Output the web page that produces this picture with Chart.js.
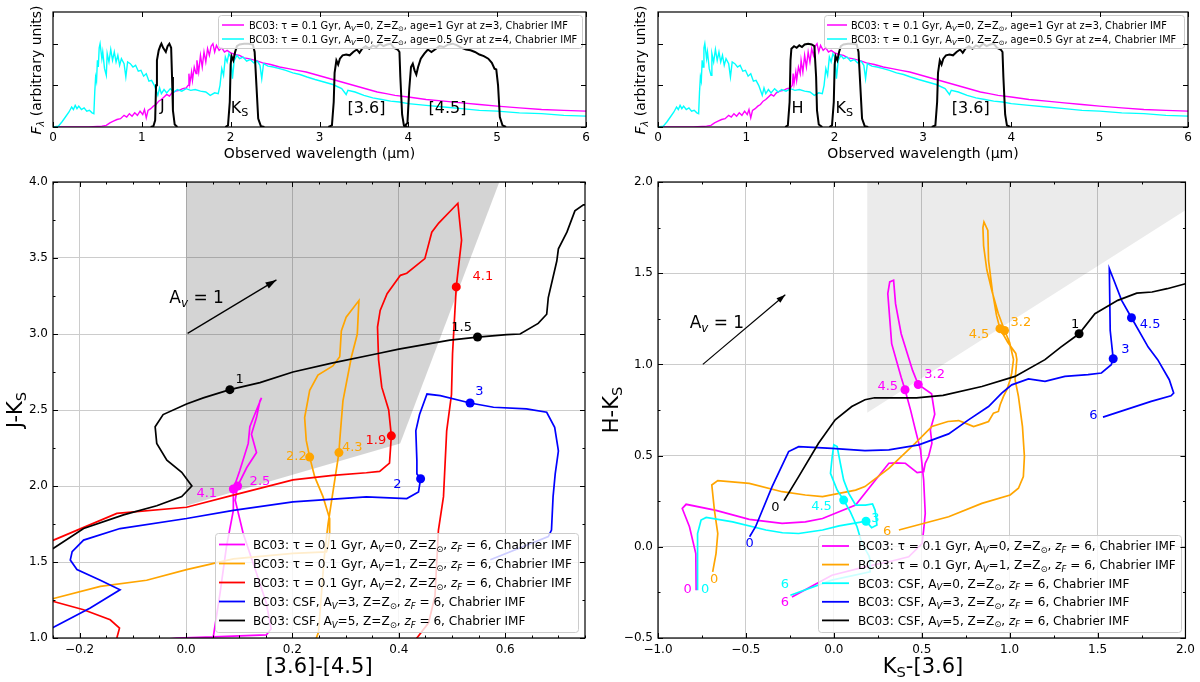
<!DOCTYPE html>
<html><head><meta charset="utf-8">
<script src="https://cdn.jsdelivr.net/npm/chart.js@4.4.1/dist/chart.umd.min.js"></script>
<style>
html,body{margin:0;padding:0;background:#fff;width:1200px;height:682px;overflow:hidden;position:relative}
canvas{position:absolute}
</style></head><body>
<canvas id="c1" width="600" height="175" style="left:0;top:0"></canvas>
<canvas id="c2" width="600" height="175" style="left:600px;top:0"></canvas>
<canvas id="c3" width="600" height="522" style="left:0;top:160px"></canvas>
<canvas id="c4" width="600" height="522" style="left:600px;top:160px"></canvas>
<script>
// ================= DATA =================
// --- top panels: spectra (wavelength um, normalised flux) ---
const topXTicks=[0,1,2,3,4,5,6];
const topYTicks=[0,0.5,1.0];
const specMagenta=[[0.00,0.00],[0.20,0.0],[0.40,0.0],[0.55,0.01],[0.60,0.02],[0.64,0.05],[0.68,0.07],[0.72,0.09],[0.76,0.1],[0.80,0.14],[0.83,0.12],[0.86,0.16],[0.89,0.13],[0.92,0.17],[0.95,0.14],[0.98,0.19],[1.01,0.15],[1.03,0.21],[1.05,0.11],[1.07,0.2],[1.10,0.22],[1.13,0.25],[1.16,0.27],[1.19,0.31],[1.22,0.33],[1.25,0.36],[1.28,0.39],[1.31,0.37],[1.34,0.41],[1.38,0.43],[1.42,0.44],[1.46,0.46],[1.50,0.47],[1.52,0.5],[1.53,0.64],[1.54,0.52],[1.56,0.66],[1.57,0.56],[1.59,0.72],[1.61,0.64],[1.62,0.8],[1.64,0.66],[1.66,0.86],[1.68,0.72],[1.70,0.9],[1.72,0.78],[1.74,0.94],[1.76,0.86],[1.78,0.97],[1.80,1.0],[1.82,0.9],[1.84,0.98],[1.87,0.92],[1.90,0.95],[1.93,0.9],[1.96,0.92],[2.00,0.89],[2.05,0.87],[2.10,0.86],[2.15,0.83],[2.20,0.82],[2.28,0.8],[2.36,0.77],[2.45,0.75],[2.55,0.72],[2.65,0.7],[2.75,0.68],[2.85,0.66],[2.95,0.63],[3.05,0.6],[3.15,0.57],[3.25,0.54],[3.35,0.51],[3.45,0.48],[3.55,0.45],[3.65,0.42],[3.75,0.4],[3.85,0.38],[4.00,0.36],[4.20,0.33],[4.40,0.31],[4.60,0.29],[4.80,0.27],[5.00,0.25],[5.25,0.23],[5.50,0.21],[5.75,0.2],[6.00,0.19]];
const specCyan=[[0.00,0.00],[0.06,0.01],[0.10,0.06],[0.14,0.12],[0.18,0.18],[0.21,0.24],[0.23,0.21],[0.25,0.26],[0.27,0.22],[0.29,0.25],[0.32,0.21],[0.35,0.23],[0.38,0.19],[0.41,0.2],[0.44,0.17],[0.46,0.16],[0.47,0.42],[0.48,0.6],[0.49,0.55],[0.50,0.8],[0.51,0.72],[0.52,0.95],[0.53,1.0],[0.55,0.82],[0.56,0.9],[0.58,0.7],[0.60,0.62],[0.61,0.88],[0.63,0.78],[0.65,0.93],[0.67,0.8],[0.69,0.9],[0.71,0.78],[0.73,0.86],[0.75,0.74],[0.77,0.82],[0.80,0.76],[0.82,0.6],[0.84,0.78],[0.87,0.76],[0.90,0.72],[0.93,0.74],[0.96,0.67],[0.99,0.68],[1.02,0.61],[1.05,0.64],[1.08,0.55],[1.11,0.56],[1.14,0.5],[1.16,0.44],[1.18,0.38],[1.20,0.47],[1.22,0.4],[1.25,0.45],[1.28,0.41],[1.32,0.46],[1.36,0.42],[1.40,0.45],[1.45,0.43],[1.50,0.46],[1.55,0.44],[1.60,0.45],[1.66,0.43],[1.72,0.42],[1.77,0.38],[1.82,0.41],[1.86,0.4],[1.88,0.5],[1.90,0.7],[1.92,0.62],[1.94,0.84],[1.96,0.78],[1.98,0.88],[2.00,0.84],[2.02,0.58],[2.04,0.8],[2.07,0.86],[2.10,0.82],[2.14,0.84],[2.18,0.79],[2.22,0.81],[2.26,0.77],[2.30,0.79],[2.33,0.74],[2.35,0.58],[2.37,0.76],[2.42,0.73],[2.48,0.72],[2.55,0.7],[2.62,0.68],[2.70,0.65],[2.78,0.63],[2.86,0.6],[2.95,0.57],[3.05,0.54],[3.15,0.51],[3.25,0.46],[3.30,0.39],[3.32,0.44],[3.40,0.42],[3.50,0.38],[3.60,0.35],[3.70,0.33],[3.80,0.31],[3.90,0.3],[4.00,0.28],[4.20,0.26],[4.40,0.24],[4.60,0.22],[4.80,0.2],[5.00,0.19],[5.25,0.17],[5.50,0.16],[5.75,0.14],[6.00,0.13]];
// --- filter curves ---
const filterJ=[[1.10,0],[1.13,0.01],[1.15,0.08],[1.16,0.5],[1.17,0.8],[1.19,0.92],[1.21,0.98],[1.22,1.0],[1.24,0.95],[1.27,0.9],[1.29,0.97],[1.31,1.0],[1.33,0.95],[1.34,0.6],[1.35,0.2],[1.37,0.03],[1.40,0]];
const filterH=[[1.44,0],[1.47,0.02],[1.49,0.3],[1.50,0.8],[1.51,0.94],[1.54,0.97],[1.57,0.95],[1.60,0.98],[1.63,0.96],[1.66,0.99],[1.70,1.0],[1.74,0.99],[1.77,0.97],[1.79,0.6],[1.80,0.2],[1.82,0.03],[1.86,0]];
const filterKs=[[1.94,0],[1.97,0.02],[1.99,0.3],[2.00,0.75],[2.01,0.85],[2.03,0.8],[2.05,0.9],[2.07,0.97],[2.10,0.99],[2.15,1.0],[2.20,1.0],[2.25,0.99],[2.27,0.9],[2.29,0.5],[2.31,0.1],[2.34,0.01],[2.38,0]];
const filter36=[[3.10,0],[3.14,0.02],[3.16,0.3],[3.17,0.65],[3.19,0.8],[3.21,0.75],[3.23,0.82],[3.26,0.86],[3.30,0.87],[3.34,0.86],[3.38,0.9],[3.42,0.93],[3.45,0.89],[3.48,0.94],[3.52,0.97],[3.56,0.94],[3.60,0.98],[3.64,0.96],[3.68,1.0],[3.72,0.97],[3.76,0.99],[3.80,1.0],[3.84,0.95],[3.88,0.93],[3.90,0.9],[3.91,0.6],[3.93,0.15],[3.95,0.02],[3.99,0]];
const filter45=[[3.95,0],[3.99,0.05],[4.01,0.45],[4.03,0.72],[4.05,0.76],[4.07,0.68],[4.09,0.63],[4.11,0.72],[4.14,0.82],[4.18,0.88],[4.22,0.93],[4.26,0.9],[4.30,0.93],[4.35,0.97],[4.40,0.96],[4.45,0.99],[4.50,1.0],[4.55,0.98],[4.60,0.95],[4.65,0.93],[4.70,0.92],[4.75,0.9],[4.80,0.87],[4.85,0.85],[4.90,0.82],[4.94,0.77],[4.97,0.7],[4.99,0.69],[5.01,0.5],[5.03,0.12],[5.06,0.02],[5.10,0]];
const topLabelsL=[[1.23,0.26,'J'],[2.10,0.24,'K_{S}'],[3.53,0.24,'[3.6]'],[4.44,0.24,'[4.5]']];
const topLabelsR=[[1.58,0.24,'H'],[2.11,0.24,'K_{S}'],[3.54,0.24,'[3.6]']];
const topLegendTexts=['BC03: τ = 0.1 Gyr, A_i{V}=0, Z=Z_{⊙}, age=1 Gyr at z=3, Chabrier IMF','BC03: τ = 0.1 Gyr, A_i{V}=0, Z=Z_{⊙}, age=0.5 Gyr at z=4, Chabrier IMF'];

// --- bottom-left: J-Ks vs [3.6]-[4.5] ---
const blXTicks=[-0.2,0.0,0.2,0.4,0.6];
const blYTicks=[1.0,1.5,2.0,2.5,3.0,3.5,4.0];
const blShade=[[0,1.87],[0,4.0],[0.589,4.0],[0.4025,2.28],[0,1.87]];
const blMagenta=[[-0.03,0.995],[-0.0175,1.0],[0.051,1.007],[0.151,1.02],[0.16,1.06],[0.151,1.23],[0.1325,1.426],[0.1075,1.688],[0.0925,1.906],[0.097,2.0],[0.114,2.12],[0.1325,2.22],[0.123,2.34],[0.1325,2.45],[0.139,2.56],[0.142,2.58],[0.1325,2.5],[0.12,2.39],[0.117,2.28],[0.101,2.1],[0.089,1.98],[0.089,1.84],[0.076,1.6],[0.064,1.295],[0.051,1.0],[0.049,0.98]];
const blOrange=[[-0.26,1.245],[-0.249,1.26],[-0.161,1.34],[-0.074,1.38],[0.001,1.45],[0.089,1.52],[0.201,1.557],[0.264,1.567],[0.267,1.6],[0.27,1.69],[0.27,1.786],[0.2575,1.93],[0.242,2.06],[0.2325,2.19],[0.226,2.30],[0.223,2.45],[0.2325,2.63],[0.248,2.73],[0.276,2.79],[0.289,2.85],[0.292,3.02],[0.301,3.11],[0.325,3.22],[0.322,3.0],[0.311,2.85],[0.295,2.56],[0.289,2.30],[0.2875,2.22],[0.267,1.75],[0.26,1.535],[0.249,1.037],[0.245,1.0],[0.244,0.98]];
const blRedA=[[-0.26,1.25],[-0.249,1.24],[-0.1925,1.186],[-0.1425,1.12],[-0.125,1.065],[-0.13,1.0],[-0.132,0.98]];
const blRedB=[[-0.26,1.63],[-0.249,1.644],[-0.13,1.82],[0.001,1.86],[0.089,1.94],[0.201,2.04],[0.276,2.07],[0.339,2.087],[0.364,2.096],[0.3825,2.15],[0.386,2.33],[0.381,2.5],[0.368,2.65],[0.362,2.83],[0.36,3.045],[0.365,3.155],[0.378,3.265],[0.403,3.386],[0.415,3.4],[0.449,3.496],[0.462,3.67],[0.475,3.73],[0.511,3.86],[0.518,3.617],[0.508,3.31],[0.501,2.87],[0.499,2.6],[0.49,2.363],[0.484,1.93],[0.4745,1.71],[0.468,1.276],[0.456,1.1],[0.434,1.0],[0.43,0.98]];
const blBlue=[[-0.26,1.05],[-0.249,1.07],[-0.18,1.197],[-0.124,1.317],[-0.161,1.38],[-0.205,1.45],[-0.2175,1.513],[-0.214,1.568],[-0.1925,1.644],[-0.124,1.72],[0.001,1.786],[0.089,1.84],[0.201,1.895],[0.339,1.928],[0.415,1.917],[0.437,1.96],[0.441,2.048],[0.434,2.08],[0.434,2.166],[0.432,2.363],[0.439,2.47],[0.453,2.605],[0.478,2.594],[0.534,2.546],[0.578,2.518],[0.64,2.507],[0.678,2.485],[0.693,2.386],[0.699,2.254],[0.7,2.23],[0.694,2.08],[0.69,1.93],[0.687,1.71],[0.681,1.667],[0.572,1.515]];
const blBlack=[[-0.26,1.57],[-0.249,1.59],[-0.1925,1.72],[-0.1175,1.81],[-0.055,1.87],[-0.008,1.93],[0.011,2.0],[-0.008,2.09],[-0.036,2.17],[-0.055,2.28],[-0.058,2.39],[-0.043,2.47],[0.001,2.54],[0.0325,2.58],[0.0825,2.634],[0.139,2.68],[0.201,2.75],[0.276,2.81],[0.359,2.87],[0.40,2.90],[0.496,2.96],[0.548,2.98],[0.603,2.996],[0.628,3.0],[0.662,3.07],[0.678,3.13],[0.681,3.24],[0.697,3.48],[0.70,3.56],[0.716,3.67],[0.731,3.81],[0.747,3.85],[0.76,3.85]];
const blArrow=[[0.003,3.004],[0.17,3.356]];
const blMarkMagenta=[[0.089,1.98],[0.097,2.0]];
const blMarkOrange=[[0.2325,2.19],[0.2875,2.22]];
const blMarkRed=[[0.386,2.33],[0.508,3.31]];
const blMarkBlue=[[0.441,2.048],[0.534,2.546]];
const blMarkBlack=[[0.0825,2.634],[0.548,2.98]];
const blNoteMagenta=[[0.039,1.96,'4.1'],[0.139,2.037,'2.5']];
const blNoteOrange=[[0.2075,2.2,'2.2'],[0.3125,2.26,'4.3']];
const blNoteRed=[[0.357,2.31,'1.9'],[0.558,3.386,'4.1']];
const blNoteBlue=[[0.3975,2.02,'2'],[0.5515,2.627,'3']];
const blNoteBlack=[[0.101,2.71,'1'],[0.518,3.05,'1.5']];
const blNoteArrow=[[0.02,3.245,'A_i{v} = 1']];
const blLegendTexts=['BC03: τ = 0.1 Gyr, A_i{V}=0, Z=Z_{⊙}, ~{z}_i{F} = 6, Chabrier IMF','BC03: τ = 0.1 Gyr, A_i{V}=1, Z=Z_{⊙}, ~{z}_i{F} = 6, Chabrier IMF','BC03: τ = 0.1 Gyr, A_i{V}=2, Z=Z_{⊙}, ~{z}_i{F} = 6, Chabrier IMF','BC03: CSF, A_i{V}=3, Z=Z_{⊙}, ~{z}_i{F} = 6, Chabrier IMF','BC03: CSF, A_i{V}=5, Z=Z_{⊙}, ~{z}_i{F} = 6, Chabrier IMF'];

// --- bottom-right: H-Ks vs Ks-[3.6] ---
const brXTicks=[-1.0,-0.5,0.0,0.5,1.0,1.5,2.0];
const brYTicks=[-0.5,0.0,0.5,1.0,1.5,2.0];
const brShade=[[0.19,0.735],[0.19,2.0],[2.0,2.0],[2.0,1.845],[0.19,0.735]];
const brMagenta=[[-0.783,-0.238],[-0.785,-0.037],[-0.821,0.11],[-0.862,0.21],[-0.84,0.233],[-0.67,0.2],[-0.481,0.15],[-0.294,0.128],[-0.162,0.137],[-0.064,0.155],[0.124,0.229],[0.237,0.366],[0.313,0.458],[0.35,0.46],[0.407,0.458],[0.474,0.407],[0.511,0.412],[0.52,0.458],[0.539,0.495],[0.558,0.568],[0.549,0.641],[0.574,0.727],[0.556,0.839],[0.48,0.89],[0.448,0.967],[0.383,1.168],[0.351,1.333],[0.34,1.461],[0.318,1.452],[0.307,1.388],[0.329,1.114],[0.383,0.93],[0.405,0.861],[0.437,0.748],[0.464,0.641],[0.493,0.531],[0.511,0.366],[0.52,0.183],[0.511,0.092],[0.502,0.018],[0.426,-0.055],[0.313,-0.082],[0.177,-0.11],[-0.011,-0.156],[-0.238,-0.275]];
const brOrange=[[-0.689,-0.137],[-0.67,-0.037],[-0.66,0.073],[-0.679,0.2],[-0.694,0.339],[-0.66,0.363],[-0.481,0.348],[-0.294,0.302],[-0.162,0.284],[-0.064,0.275],[0.124,0.311],[0.177,0.33],[0.313,0.43],[0.464,0.568],[0.558,0.66],[0.649,0.687],[0.71,0.692],[0.747,0.678],[0.795,0.659],[0.842,0.674],[0.88,0.687],[0.908,0.733],[0.936,0.742],[0.946,0.779],[0.965,0.825],[0.984,0.861],[1.003,0.916],[1.012,0.953],[1.022,1.026],[1.0,1.12],[0.971,1.186],[0.935,1.28],[0.9,1.4],[0.87,1.52],[0.852,1.65],[0.848,1.75],[0.854,1.781],[0.876,1.735],[0.88,1.57],[0.902,1.4],[0.925,1.27],[0.945,1.196],[0.99,1.12],[1.035,1.06],[1.041,1.026],[1.031,0.916],[1.05,0.825],[1.073,0.659],[1.084,0.495],[1.078,0.385],[1.05,0.321],[1.003,0.284],[0.842,0.238],[0.653,0.165],[0.37,0.092]];
const brCyan=[[-0.775,-0.238],[-0.775,-0.055],[-0.775,0.073],[-0.755,0.147],[-0.726,0.161],[-0.575,0.137],[-0.386,0.092],[-0.292,0.077],[-0.2,0.073],[-0.064,0.092],[0.03,0.115],[0.12,0.13],[0.183,0.14],[0.215,0.105],[0.245,0.119],[0.235,0.2],[0.22,0.235],[0.18,0.229],[0.124,0.229],[0.085,0.293],[0.056,0.366],[0.037,0.458],[0.019,0.55],[0.0,0.559],[-0.009,0.495],[-0.019,0.403],[0.019,0.311],[0.056,0.256],[0.094,0.192],[0.132,0.11],[0.16,0.018],[0.2,-0.05],[0.206,-0.073],[0.206,-0.137],[-0.011,-0.183],[-0.247,-0.266]];
const brBlue=[[-0.479,0.055],[-0.445,0.11],[-0.351,0.33],[-0.257,0.522],[-0.2,0.549],[-0.011,0.54],[0.177,0.527],[0.313,0.531],[0.483,0.559],[0.653,0.619],[0.766,0.696],[0.88,0.769],[0.955,0.843],[1.012,0.888],[1.107,0.92],[1.201,0.907],[1.314,0.934],[1.446,0.944],[1.522,0.953],[1.578,0.998],[1.589,1.031],[1.572,1.186],[1.567,1.525],[1.593,1.461],[1.637,1.351],[1.693,1.256],[1.788,1.095],[1.842,1.026],[1.908,0.916],[1.933,0.843],[1.918,0.828],[1.805,0.797],[1.531,0.711]];
const brBlack=[[-0.283,0.253],[-0.2,0.385],[-0.087,0.568],[0.008,0.696],[0.102,0.769],[0.177,0.806],[0.232,0.817],[0.47,0.817],[0.621,0.83],[0.842,0.879],[1.031,0.934],[1.201,1.026],[1.291,1.095],[1.395,1.168],[1.485,1.278],[1.615,1.351],[1.723,1.391],[1.81,1.397],[1.896,1.415],[2.0,1.442],[2.02,1.444]];
const brArrow=[[-0.745,1.0],[-0.276,1.382]];
const brMarkMagenta=[[0.48,0.89],[0.405,0.861]];
const brMarkOrange=[[0.971,1.186],[0.945,1.196]];
const brMarkCyan=[[0.183,0.14],[0.056,0.256]];
const brMarkBlue=[[1.589,1.031],[1.693,1.256]];
const brMarkBlack=[[1.395,1.168]];
const brNoteMagenta=[[-0.832,-0.229,'0'],[0.573,0.949,'3.2'],[0.307,0.885,'4.5'],[-0.279,-0.299,'6']];
const brNoteOrange=[[-0.681,-0.174,'0'],[1.064,1.238,'3.2'],[0.826,1.172,'4.5'],[0.303,0.088,'6']];
const brNoteCyan=[[-0.732,-0.229,'0'],[0.237,0.163,'3'],[-0.07,0.226,'4.5'],[-0.279,-0.198,'6']];
const brNoteBlue=[[-0.479,0.022,'0'],[1.658,1.086,'3'],[1.799,1.227,'4.5'],[1.477,0.727,'6']];
const brNoteBlack=[[-0.332,0.223,'0'],[1.373,1.227,'1']];
const brNoteArrow=[[-0.665,1.232,'A_i{v} = 1']];
const brLegendTexts=['BC03: τ = 0.1 Gyr, A_i{V}=0, Z=Z_{⊙}, ~{z}_i{F} = 6, Chabrier IMF','BC03: τ = 0.1 Gyr, A_i{V}=1, Z=Z_{⊙}, ~{z}_i{F} = 6, Chabrier IMF','BC03: CSF, A_i{V}=0, Z=Z_{⊙}, ~{z}_i{F} = 6, Chabrier IMF','BC03: CSF, A_i{V}=3, Z=Z_{⊙}, ~{z}_i{F} = 6, Chabrier IMF','BC03: CSF, A_i{V}=5, Z=Z_{⊙}, ~{z}_i{F} = 6, Chabrier IMF'];

// ================= STYLE / HELPERS =================
const FONT="'DejaVu Sans', 'Liberation Sans', sans-serif";
Chart.defaults.font.family=FONT;
Chart.defaults.color='#000';
const C={m:'#ff00ff',c:'#00ffff',o:'#ffa500',r:'#ff0000',b:'#0000ff',k:'#000000'};
const pts=a=>a.map(p=>({x:p[0],y:p[1]}));
function fontStr(size,it){return (it?'italic ':'')+size.toFixed(2)+'px '+FONT;}
function parseRich(s){
  const out=[];const re=/(_i?\{[^}]*\}|~\{[^}]*\})/g;let last=0,m;
  while((m=re.exec(s))){
    if(m.index>last) out.push({t:s.slice(last,m.index)});
    const tok=m[0];
    if(tok.startsWith('_i{')) out.push({t:tok.slice(3,-1),sub:true,it:true});
    else if(tok.startsWith('_{')) out.push({t:tok.slice(2,-1),sub:true});
    else out.push({t:tok.slice(2,-1),it:true});
    last=re.lastIndex;
  }
  if(last<s.length) out.push({t:s.slice(last)});
  return out;
}
function richWidth(ctx,s,size){let w=0;for(const p of parseRich(s)){ctx.font=fontStr(p.sub?size*0.7:size,p.it);w+=ctx.measureText(p.t).width;}return w;}
function drawRich(ctx,s,x,y,size,color,align){
  const w=richWidth(ctx,s,size);let cx=align==='center'?x-w/2:(align==='right'?x-w:x);
  ctx.fillStyle=color;ctx.textBaseline='alphabetic';ctx.textAlign='left';
  for(const p of parseRich(s)){const sz=p.sub?size*0.7:size;ctx.font=fontStr(sz,p.it);ctx.fillText(p.t,cx,y+(p.sub?size*0.22:0));cx+=ctx.measureText(p.t).width;}
}
function fmtTick(v,dec){return Number(v).toFixed(dec).replace('-','\u2212');}
function drawLegend(ctx,L){
  ctx.save();
  let fs=10;fs=fs*L.tw/richWidth(ctx,L.items[0].t,fs);
  ctx.beginPath();
  if(ctx.roundRect) ctx.roundRect(L.x+0.5,L.y+0.5,L.w,L.h,3); else ctx.rect(L.x+0.5,L.y+0.5,L.w,L.h);
  ctx.fillStyle='rgba(255,255,255,0.8)';ctx.fill();ctx.strokeStyle='#cccccc';ctx.lineWidth=1;ctx.stroke();
  L.items.forEach((it,i)=>{
    const y=L.ry+i*L.dy;
    ctx.strokeStyle=it.c;ctx.lineWidth=L.lw;ctx.beginPath();ctx.moveTo(L.lx0,y);ctx.lineTo(L.lx1,y);ctx.stroke();
    drawRich(ctx,it.t,L.tx,y+fs*0.36,fs,'#000','left');
  });
  ctx.restore();
}
function deco(cfg){
  return {id:'deco',
    afterDatasetsDraw(chart){
      const ctx=chart.ctx,xs=chart.scales.x,ys=chart.scales.y;
      const P=(x,y)=>[xs.getPixelForValue(x),ys.getPixelForValue(y)];
      ctx.save();
      if(cfg.arrow){
        const p0=P(cfg.arrow[0][0],cfg.arrow[0][1]),p1=P(cfg.arrow[1][0],cfg.arrow[1][1]);
        const ang=Math.atan2(p1[1]-p0[1],p1[0]-p0[0]);const hl=cfg.head[0],hw=cfg.head[1];
        ctx.fillStyle='#000';ctx.beginPath();ctx.moveTo(p1[0],p1[1]);
        ctx.lineTo(p1[0]-hl*Math.cos(ang)+hw*Math.sin(ang),p1[1]-hl*Math.sin(ang)-hw*Math.cos(ang));
        ctx.lineTo(p1[0]-hl*Math.cos(ang)-hw*Math.sin(ang),p1[1]-hl*Math.sin(ang)+hw*Math.cos(ang));
        ctx.closePath();ctx.fill();
      }
      (cfg.notes||[]).forEach(g=>g.d.forEach(n=>{const p=P(n[0],n[1]);drawRich(ctx,n[2],p[0],p[1]+g.s*0.36,g.s,g.c,'center');}));
      if(cfg.legend) drawLegend(ctx,cfg.legend);
      ctx.restore();
    },
    afterDraw(chart){
      const ctx=chart.ctx,a=chart.chartArea,xs=chart.scales.x,ys=chart.scales.y;
      ctx.save();ctx.strokeStyle='#000';ctx.lineWidth=1;ctx.beginPath();
      const tx=(v,l)=>{const p=Math.round(xs.getPixelForValue(v))+0.5;ctx.moveTo(p,a.bottom);ctx.lineTo(p,a.bottom-l);ctx.moveTo(p,a.top);ctx.lineTo(p,a.top+l);};
      const ty=(v,l)=>{const p=Math.round(ys.getPixelForValue(v))+0.5;ctx.moveTo(a.left,p);ctx.lineTo(a.left+l,p);ctx.moveTo(a.right,p);ctx.lineTo(a.right-l,p);};
      cfg.xt.forEach(v=>tx(v,5));cfg.yt.forEach(v=>ty(v,5));
      if(cfg.xm){for(let i=Math.ceil(cfg.xr[0]/cfg.xm-1e-6);i*cfg.xm<=cfg.xr[1]+1e-9;i++)tx(i*cfg.xm,2.5);}
      if(cfg.ym){for(let i=Math.ceil(cfg.yr[0]/cfg.ym-1e-6);i*cfg.ym<=cfg.yr[1]+1e-9;i++)ty(i*cfg.ym,2.5);}
      ctx.stroke();
      ctx.lineWidth=1.2;ctx.strokeRect(a.left,a.top,a.right-a.left,a.bottom-a.top);
      const xtl=cfg.xTitle;drawRich(ctx,xtl.t,xtl.x,xtl.y+xtl.s*0.36,xtl.s,'#000','center');
      const ytl=cfg.yTitle;ctx.translate(ytl.x,ytl.y);ctx.rotate(-Math.PI/2);drawRich(ctx,ytl.t,0,ytl.s*0.36,ytl.s,'#000','center');
      ctx.restore();
    }
  };
}
function scale(axis,min,max,ticksArr,o){
  return {type:'linear',min,max,bounds:'data',position:axis==='x'?'bottom':'left',
    afterBuildTicks:s=>{s.ticks=ticksArr.map(v=>({value:v}));},
    afterFit:s=>{if(axis==='x')s.height=o.size;else s.width=o.size;},
    ticks:{display:o.labels!==false,autoSkip:false,maxRotation:0,minRotation:0,padding:o.pad||5,font:{size:12,family:FONT},color:'#000',callback:v=>fmtTick(v,o.dec)},
    grid:{display:!!o.grid,color:'#cccccc',lineWidth:1,drawTicks:false},
    border:{display:false}};
}
function build(id,cfg){
  const ds=[];
  if(cfg.shade) ds.push({data:pts(cfg.shade),showLine:true,fill:'shape',backgroundColor:cfg.shadeColor,borderWidth:0,borderColor:'rgba(0,0,0,0)',pointRadius:0,order:50});
  cfg.lines.forEach(l=>ds.push({data:pts(l.d),showLine:true,borderColor:l.c,borderWidth:l.w||1.7,pointRadius:0,pointHoverRadius:0,fill:false,order:l.o}));
  (cfg.marks||[]).forEach(m=>ds.push({data:pts(m.d),showLine:false,pointRadius:4.5,pointHoverRadius:4.5,pointBackgroundColor:m.c,pointBorderWidth:0,borderWidth:0,order:-1}));
  new Chart(document.getElementById(id),{type:'scatter',data:{datasets:ds},
    options:{responsive:false,animation:false,devicePixelRatio:1,events:[],
      layout:{autoPadding:false,padding:cfg.pad},
      plugins:{legend:{display:false},tooltip:{enabled:false}},
      scales:{x:scale('x',cfg.xr[0],cfg.xr[1],cfg.xt,cfg.xo),y:scale('y',cfg.yr[0],cfg.yr[1],cfg.yt,cfg.yo)}},
    plugins:[deco(cfg)]});
}

// ================= CHARTS =================
build('c1',{pad:{left:0,top:12,right:14,bottom:0},xr:[0,6],yr:[0,1.38],xt:topXTicks,yt:topYTicks,
  xo:{size:48,dec:0,pad:4},yo:{size:53,labels:false},
  lines:[{d:specMagenta,c:C.m,w:1.4,o:9},{d:specCyan,c:C.c,w:1.4,o:8},{d:filterJ,c:C.k,w:2,o:5},{d:filterKs,c:C.k,w:2,o:5},{d:filter36,c:C.k,w:2,o:5},{d:filter45,c:C.k,w:2,o:5}],
  notes:[{d:topLabelsL,c:'#000',s:16}],
  legend:{x:218,y:15,w:364,h:33,ry:25,dy:14,lx0:222,lx1:244,tx:249,tw:319,lw:1.5,items:[{c:C.m,t:topLegendTexts[0]},{c:C.c,t:topLegendTexts[1]}]},
  xTitle:{t:'Observed wavelength (μm)',x:319.5,y:153,s:14},yTitle:{t:'~{F}_i{λ} (arbitrary units)',x:36,y:70,s:14}});
build('c2',{pad:{left:0,top:12,right:12,bottom:0},xr:[0,6],yr:[0,1.38],xt:topXTicks,yt:topYTicks,
  xo:{size:48,dec:0,pad:4},yo:{size:58,labels:false},
  lines:[{d:specMagenta,c:C.m,w:1.4,o:9},{d:specCyan,c:C.c,w:1.4,o:8},{d:filterH,c:C.k,w:2,o:5},{d:filterKs,c:C.k,w:2,o:5},{d:filter36,c:C.k,w:2,o:5}],
  notes:[{d:topLabelsR,c:'#000',s:16}],
  legend:{x:224,y:15,w:360,h:33,ry:25,dy:14,lx0:227,lx1:247,tx:251,tw:316,lw:1.5,items:[{c:C.m,t:topLegendTexts[0]},{c:C.c,t:topLegendTexts[1]}]},
  xTitle:{t:'Observed wavelength (μm)',x:323,y:153,s:14},yTitle:{t:'~{F}_i{λ} (arbitrary units)',x:40,y:70,s:14}});
build('c3',{pad:{left:0,top:22,right:15,bottom:0},xr:[-0.25,0.75],yr:[1.0,4.0],xt:blXTicks,yt:blYTicks,xm:0.05,ym:0.25,
  xo:{size:44,dec:1,grid:true},yo:{size:53,dec:1,grid:true},
  shade:blShade,shadeColor:'rgba(0,0,0,0.17)',
  lines:[{d:blMagenta,c:C.m,o:6},{d:blOrange,c:C.o,o:5},{d:blRedA,c:C.r,o:4},{d:blRedB,c:C.r,o:4},{d:blBlue,c:C.b,o:3},{d:blBlack,c:C.k,o:2},{d:blArrow,c:C.k,w:1.3,o:1}],
  marks:[{d:blMarkMagenta,c:C.m},{d:blMarkOrange,c:C.o},{d:blMarkRed,c:C.r},{d:blMarkBlue,c:C.b},{d:blMarkBlack,c:C.k}],
  arrow:blArrow,head:[11,3.5],
  notes:[{d:blNoteMagenta,c:C.m,s:13},{d:blNoteOrange,c:C.o,s:13},{d:blNoteRed,c:C.r,s:13},{d:blNoteBlue,c:C.b,s:13},{d:blNoteBlack,c:C.k,s:13},{d:blNoteArrow,c:C.k,s:17}],
  legend:{x:215,y:373,w:363,h:99,ry:384.5,dy:19,lx0:219,lx1:245,tx:253,tw:319,lw:1.8,items:[{c:C.m,t:blLegendTexts[0]},{c:C.o,t:blLegendTexts[1]},{c:C.r,t:blLegendTexts[2]},{c:C.b,t:blLegendTexts[3]},{c:C.k,t:blLegendTexts[4]}]},
  xTitle:{t:'[3.6]-[4.5]',x:319,y:505,s:21},yTitle:{t:'J-K_{S}',x:14,y:250,s:21}});
build('c4',{pad:{left:0,top:22,right:12,bottom:0},xr:[-1.0,2.0],yr:[-0.5,2.0],xt:brXTicks,yt:brYTicks,xm:0.25,ym:0.25,
  xo:{size:44,dec:1,grid:true},yo:{size:58,dec:1,grid:true},
  shade:brShade,shadeColor:'rgba(0,0,0,0.08)',
  lines:[{d:brMagenta,c:C.m,o:6},{d:brOrange,c:C.o,o:5},{d:brCyan,c:C.c,o:4},{d:brBlue,c:C.b,o:3},{d:brBlack,c:C.k,o:2},{d:brArrow,c:C.k,w:1.2,o:1}],
  marks:[{d:brMarkMagenta,c:C.m},{d:brMarkOrange,c:C.o},{d:brMarkCyan,c:C.c},{d:brMarkBlue,c:C.b},{d:brMarkBlack,c:C.k}],
  arrow:brArrow,head:[9,3],
  notes:[{d:brNoteMagenta,c:C.m,s:13},{d:brNoteOrange,c:C.o,s:13},{d:brNoteCyan,c:C.c,s:13},{d:brNoteBlue,c:C.b,s:13},{d:brNoteBlack,c:C.k,s:13},{d:brNoteArrow,c:C.k,s:17}],
  legend:{x:218,y:375,w:363,h:97,ry:386,dy:18.6,lx0:222,lx1:249,tx:258,tw:318,lw:1.8,items:[{c:C.m,t:brLegendTexts[0]},{c:C.o,t:brLegendTexts[1]},{c:C.c,t:brLegendTexts[2]},{c:C.b,t:brLegendTexts[3]},{c:C.k,t:brLegendTexts[4]}]},
  xTitle:{t:'K_{S}-[3.6]',x:323,y:505,s:21},yTitle:{t:'H-K_{S}',x:10,y:250,s:21}});
</script>
</body></html>
